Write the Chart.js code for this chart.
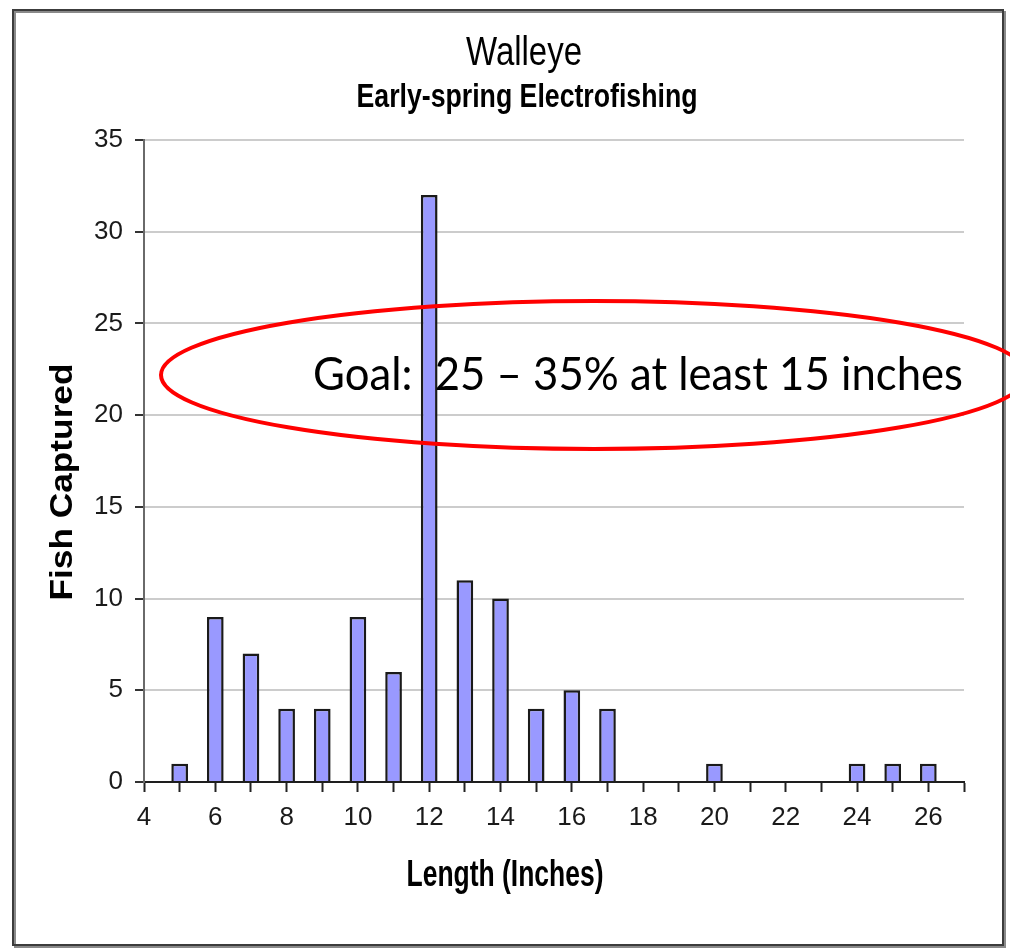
<!DOCTYPE html>
<html>
<head>
<meta charset="utf-8">
<title>Walleye - Early-spring Electrofishing</title>
<script src="https://cdn.jsdelivr.net/npm/chart.js@4"></script>
<style>
  html, body { margin: 0; padding: 0; background: #fff; }
  #wrap { width: 1010px; height: 952px; position: relative; }
</style>
</head>
<body>
<div id="wrap"><canvas id="walleyeChart"></canvas></div>
<script>
// length classes (inches) that had fish, and the count captured in each
const lengths = [5, 6, 7, 8, 9, 10, 11, 12, 13, 14, 15, 16, 17, 20, 24, 25, 26];
const fishCaptured = [1, 9, 7, 4, 4, 9, 6, 32, 11, 10, 4, 5, 4, 1, 1, 1, 1];

// axis ticks
const xTickLabels = [4, 6, 8, 10, 12, 14, 16, 18, 20, 22, 24, 26];
const yTickLabels = [0, 5, 10, 15, 20, 25, 30, 35];

const chartTitle = 'Walleye';
const chartSubtitle = 'Early-spring Electrofishing';
const xTitle = 'Length (Inches)';
const yTitle = 'Fish Captured';
const goalNote = 'Goal:  25 \u2013 35% at least 15 inches';

const SANS = '"Liberation Sans", Arial, sans-serif';

// the original text is squeezed sideways, so fit each string to its width
function squeezedText(ctx, text, x, y, font, width) {
    ctx.save();
    ctx.font = font;
    const w = ctx.measureText(text).width;
    ctx.translate(x, y);
    ctx.scale(width / w, 1);
    ctx.textAlign = 'center';
    ctx.textBaseline = 'alphabetic';
    ctx.fillText(text, 0, 0);
    ctx.restore();
}

const frameAndNotes = {
    id: 'frameAndNotes',
    beforeDraw(chart) {
        const ctx = chart.ctx;
        ctx.save();
        ctx.fillStyle = '#ffffff';
        ctx.fillRect(0, 0, chart.width, chart.height);
        // outer frame with a little shadow
        ctx.strokeStyle = '#8a8a8a';
        ctx.lineWidth = 2;
        ctx.strokeRect(15, 12, 990, 935);
        ctx.strokeStyle = '#3c3c3c';
        ctx.strokeRect(13, 10, 990, 935);
        ctx.restore();
    },
    afterDraw(chart) {
        const ctx = chart.ctx;
        ctx.save();
        ctx.fillStyle = '#000';

        squeezedText(ctx, chartTitle, 524, 65, '40px ' + SANS, 116);
        squeezedText(ctx, chartSubtitle, 527, 107, 'bold 34px ' + SANS, 341);
        squeezedText(ctx, xTitle, 505, 886, 'bold 36px ' + SANS, 197);

        ctx.save();
        ctx.translate(72, 482);
        ctx.rotate(-Math.PI / 2);
        ctx.scale(1, 0.87);
        ctx.font = 'bold 35px ' + SANS;
        const yw = ctx.measureText(yTitle).width;
        ctx.scale(237 / yw, 1);
        ctx.textAlign = 'center';
        ctx.textBaseline = 'alphabetic';
        ctx.fillText(yTitle, 0, 0);
        ctx.restore();

        // red goal ellipse and note
        ctx.strokeStyle = '#ff0000';
        ctx.lineWidth = 4;
        ctx.beginPath();
        ctx.ellipse(594, 375, 433, 74, 0, 0, Math.PI * 2);
        ctx.stroke();

        ctx.font = '46px Lato, "Open Sans", sans-serif';
        const w = ctx.measureText(goalNote).width;
        ctx.save();
        ctx.translate(313, 375);
        ctx.scale(650 / w, 1);
        ctx.textAlign = 'left';
        ctx.textBaseline = 'middle';
        ctx.fillText(goalNote, 0, 0);
        ctx.restore();
        ctx.restore();
    }
};

const ctx = document.getElementById('walleyeChart').getContext('2d');

new Chart(ctx, {
    type: 'bar',
    data: {
        datasets: [{
            label: yTitle,
            data: lengths.map((len, i) => ({ x: len, y: fishCaptured[i] })),
            backgroundColor: '#9999ff',
            borderColor: '#1a1a1a',
            borderWidth: 2.5,
            borderSkipped: 'bottom',
            barPercentage: 0.52,
            categoryPercentage: 0.9,
        }]
    },
    options: {
        responsive: true,
        maintainAspectRatio: false,
        animation: false,
        layout: {
            padding: { left: 44, right: 46, top: 140, bottom: 110 }
        },
        plugins: {
            legend: { display: false },
            tooltip: { enabled: false }
        },
        scales: {
            x: {
                type: 'linear',
                min: 4,
                max: 27,
                offset: false,
                afterFit: scale => { scale.height = 60; },
                grid: {
                    offset: false,
                    drawOnChartArea: false,
                    drawTicks: true,
                    tickLength: 10,
                    tickColor: '#222',
                    tickWidth: 2
                },
                border: { display: true, color: '#1e1e1e', width: 2 },
                ticks: {
                    stepSize: 1,
                    autoSkip: false,
                    maxRotation: 0,
                    padding: 10,
                    color: '#1a1a1a',
                    font: { family: SANS, size: 26 },
                    callback: v => xTickLabels.includes(v) ? String(v) : ''
                }
            },
            y: {
                min: 0,
                max: 35,
                afterFit: scale => { scale.width = 100; },
                grid: {
                    color: '#cccccc',
                    lineWidth: 2,
                    tickLength: 9,
                    tickColor: '#333',
                    tickWidth: 2
                },
                border: { display: true, color: '#6a6a6a', width: 2 },
                ticks: {
                    stepSize: 5,
                    padding: 12,
                    color: '#1a1a1a',
                    font: { family: SANS, size: 26 },
                    callback: v => yTickLabels.includes(v) ? String(v) : ''
                }
            }
        }
    },
    plugins: [frameAndNotes]
});
</script>
</body>
</html>
